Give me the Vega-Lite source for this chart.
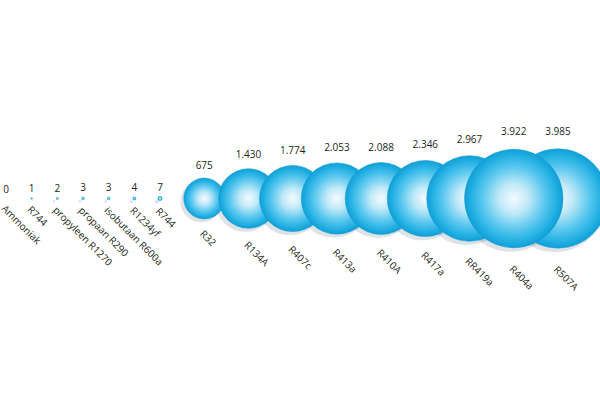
{
  "$schema": "https://vega.github.io/schema/vega-lite/v6.json",
  "autosize": {"type": "none"},
  "padding": {"left": 0, "top": 0, "right": 36, "bottom": 3},
  "width": 564,
  "height": 397,
  "background": "white",
  "config": {
    "view": {"stroke": null},
    "locale": {"number": {"decimal": ",", "thousands": ".", "grouping": [3], "currency": ["€", ""]}}
  },
  "data": {
    "values": [
      {"rank": 1, "name": "Ammoniak", "gwp": 0},
      {"rank": 2, "name": "R744", "gwp": 1},
      {"rank": 3, "name": "propyleen R1270", "gwp": 2},
      {"rank": 4, "name": "propaan R290", "gwp": 3},
      {"rank": 5, "name": "isobutaan R600a", "gwp": 3},
      {"rank": 6, "name": "R1234yf", "gwp": 4},
      {"rank": 7, "name": "R744", "gwp": 7},
      {"rank": 8, "name": "R32", "gwp": 675},
      {"rank": 9, "name": "R134A", "gwp": 1430},
      {"rank": 10, "name": "R407c", "gwp": 1774},
      {"rank": 11, "name": "R413a", "gwp": 2053},
      {"rank": 12, "name": "R410A", "gwp": 2088},
      {"rank": 13, "name": "R417a", "gwp": 2346},
      {"rank": 14, "name": "RR419a", "gwp": 2967},
      {"rank": 16, "name": "R507A", "gwp": 3985},
      {"rank": 15, "name": "R404a", "gwp": 3922}
    ]
  },
  "encoding": {
    "x": {"field": "rank", "type": "quantitative", "scale": {"type": "linear", "domain": [1, 7, 16], "range": [6, 160, 558]}, "axis": null}
  },
  "layer": [
    {
      "mark": {"type": "point", "shape": "circle", "filled": true, "fill": "#1b3a4a", "opacity": 0.14, "xOffset": -3, "yOffset": 3},
      "encoding": {
        "size": {"field": "gwp", "type": "quantitative", "scale": {"type": "linear", "zero": true, "domain": [0, 4000], "range": [0, 10300]}, "legend": null}
      }
    },
    {
      "mark": {
        "type": "point", "shape": "circle", "filled": true, "opacity": 1,
        "fill": {"gradient": "radial", "x1": 0.5, "y1": 0.5, "r1": 0, "x2": 0.5, "y2": 0.5, "r2": 0.5,
          "stops": [
            {"offset": 0, "color": "#f4fbfe"},
            {"offset": 0.3, "color": "#c0e9f8"},
            {"offset": 0.65, "color": "#56c6ee"},
            {"offset": 0.88, "color": "#20afe2"},
            {"offset": 1, "color": "#129ed6"}
          ]},
        "stroke": "#129ed6", "strokeWidth": 0.6
      },
      "encoding": {
        "size": {"field": "gwp", "type": "quantitative", "scale": {"type": "linear", "zero": true, "domain": [0, 4000], "range": [0, 9890]}, "legend": null}
      }
    },
    {
      "mark": {"type": "text", "font": "Open Sans", "fontSize": 10, "color": "#231f20", "baseline": "middle", "align": "center"},
      "encoding": {
        "y": {"field": "gwp", "type": "quantitative", "scale": {"type": "sqrt", "zero": true, "domain": [0, 4000], "range": [190, 131.6]}, "axis": null},
        "text": {"field": "gwp", "type": "quantitative", "format": ",d"}
      }
    },
    {
      "mark": {"type": "text", "font": "Open Sans", "fontSize": 10, "color": "#231f20", "baseline": "top", "align": "left", "angle": 45, "dx": 1},
      "encoding": {
        "y": {"field": "gwp", "type": "quantitative", "scale": {"type": "sqrt", "zero": true, "domain": [0, 4000], "range": [203, 264]}, "axis": null},
        "text": {"field": "name", "type": "nominal"}
      }
    }
  ],
  "resolve": {"scale": {"y": "independent", "size": "independent"}}
}
